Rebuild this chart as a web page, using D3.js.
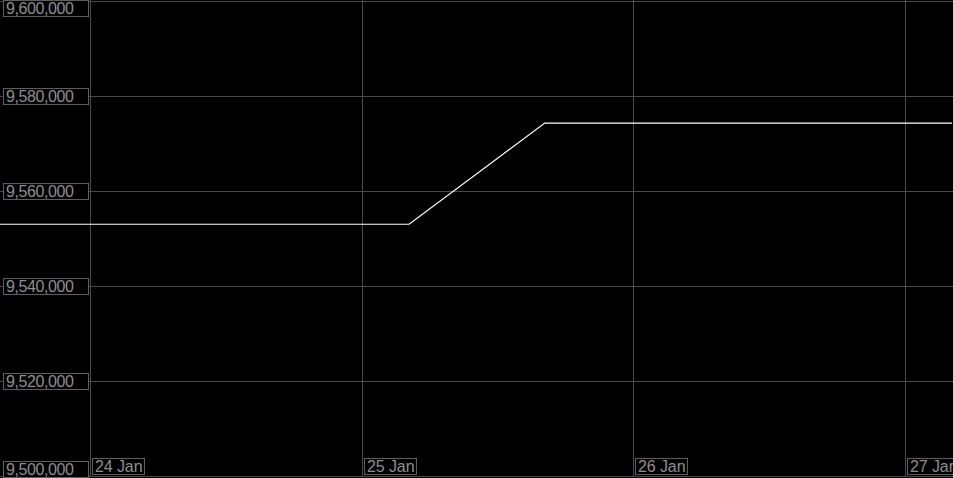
<!DOCTYPE html>
<meta charset="utf-8">
<style>
    body { margin: 0; background: #000; }
    svg { display: block; background: #000; }
    .grid line { stroke: #4a4a4a; stroke-width: 1px; shape-rendering: crispEdges; }
    .label rect { fill: #000; stroke: #5e5e5e; stroke-width: 1px; shape-rendering: crispEdges; }
    .label text { font-family: "Liberation Sans", Arial, sans-serif; font-size: 16px; letter-spacing: -0.4px; fill: #8e8e8e; }
    .xlab text { letter-spacing: -0.1px; }
    .line { fill: none; stroke: #fff; stroke-width: 1.2px; }
</style>
<body>
    <svg width="953" height="478"></svg>
</body>
<script src="https://d3js.org/d3.v7.min.js"></script>
<script>

    // data
    var times = ["2024-01-23T16:00", "2024-01-25T04:10", "2024-01-25T16:10", "2024-01-27T04:10"];
    var values = [9553000, 9553000, 9574300, 9574300];
    var yTicks = [9500000, 9520000, 9540000, 9560000, 9580000, 9600000];
    var xTicks = ["2024-01-24", "2024-01-25", "2024-01-26", "2024-01-27"];

    var svg = d3.select("svg"),
        width = +svg.attr("width"),
        height = +svg.attr("height");

    var parse = d3.utcParse("%Y-%m-%dT%H:%M"),
        parseDay = d3.utcParse("%Y-%m-%d");

    var data = times.map(function (t, i) { return { date: parse(t), value: values[i] }; });

    var x = d3.scaleUtc()
        .domain([parse(times[0]), parse(times[times.length - 1])])
        .range([0, 952]);

    var y = d3.scaleLinear()
        .domain([9500000, 9600000])
        .range([476, 1]);

    var fmt = d3.format(",");
    var dayFmt = d3.utcFormat("%d %b");

    // grid
    var grid = svg.append("g").attr("class", "grid");
    grid.selectAll(".h")
        .data(yTicks)
        .enter().append("line")
        .attr("class", "h")
        .attr("x1", 0).attr("x2", width)
        .attr("y1", function (d) { return Math.round(y(d)) + 0.5; })
        .attr("y2", function (d) { return Math.round(y(d)) + 0.5; });

    grid.selectAll(".v")
        .data(xTicks.map(parseDay))
        .enter().append("line")
        .attr("class", "v")
        .attr("x1", function (d) { return Math.round(x(d)) + 0.5; })
        .attr("x2", function (d) { return Math.round(x(d)) + 0.5; })
        .attr("y1", 0).attr("y2", 476);

    // the line
    var line = d3.line()
        .x(function (d) { return x(d.date); })
        .y(function (d) { return y(d.value); });

    svg.append("path")
        .datum(data)
        .attr("class", "line")
        .attr("d", line);

    // y labels, boxed, kept inside the picture
    var yLab = svg.selectAll(".ylab")
        .data(yTicks)
        .enter().append("g")
        .attr("class", "label ylab")
        .attr("transform", function (d) {
            var top = Math.round(y(d)) - 8;
            top = Math.max(0, Math.min(height - 17, top));
            return "translate(3," + top + ")";
        });
    yLab.append("rect")
        .attr("x", 0.5).attr("y", 0.5)
        .attr("width", 85).attr("height", 16);
    yLab.append("text")
        .attr("x", 3).attr("y", 14)
        .text(function (d) { return fmt(d); });

    // x labels, right of each day line
    var xLab = svg.selectAll(".xlab")
        .data(xTicks.map(parseDay))
        .enter().append("g")
        .attr("class", "label xlab")
        .attr("transform", function (d) { return "translate(" + (Math.round(x(d)) + 2) + ",458)"; });
    xLab.append("rect")
        .attr("x", 0.5).attr("y", 0.5)
        .attr("width", 52).attr("height", 16);
    xLab.append("text")
        .attr("x", 3).attr("y", 14)
        .text(function (d) { return dayFmt(d); });
</script>
